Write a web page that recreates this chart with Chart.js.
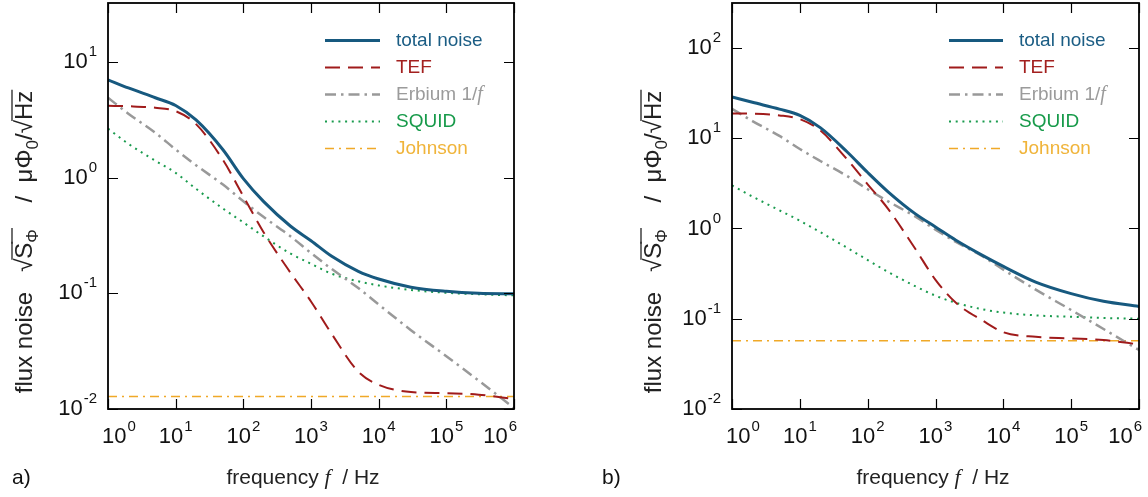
<!DOCTYPE html>
<html>
<head>
<meta charset="utf-8">
<script src="https://cdn.jsdelivr.net/npm/chart.js"></script>
<style>
  html, body { margin: 0; padding: 0; background: #fff; }
  #wrap { position: relative; width: 1148px; height: 497px; overflow: hidden; }
  .panel { position: absolute; top: 0; width: 574px; height: 497px; }
</style>
</head>
<body>
<div id="wrap">
  <div class="panel" style="left:0"><canvas id="chartA" width="574" height="497"></canvas></div>
  <div class="panel" style="left:574px"><canvas id="chartB" width="574" height="497"></canvas></div>
</div>
<script>
// frequency grid (Hz) shared by all curves
const freq = [1, 2, 5, 10, 20, 50, 100, 200, 500, 1e3, 2e3, 5e3, 1e4, 3e4, 1e5, 3e5, 1e6];
const seriesNames = ['total noise', 'TEF', 'Erbium 1/', 'SQUID', 'Johnson'];

// panel a)  flux noise in uPhi0/sqrt(Hz)
const totalA   = [7.0, 5.96, 4.9, 4.2, 3.15, 1.74, 0.98, 0.62, 0.38, 0.285, 0.21, 0.155, 0.133, 0.113, 0.104, 0.1, 0.099];
const tefA     = [4.17, 4.14, 4.02, 3.75, 2.9, 1.42, 0.69, 0.336, 0.15, 0.085, 0.045, 0.021, 0.0162, 0.014, 0.0137, 0.0133, 0.0122];
const erbiumA  = [4.9, 3.57, 2.44, 1.75, 1.28, 0.87, 0.625, 0.456, 0.31, 0.223, 0.163, 0.111, 0.080, 0.048, 0.0286, 0.0176, 0.0102];
const squidA   = [2.65, 1.96, 1.4, 1.1, 0.8, 0.54, 0.41, 0.31, 0.22, 0.18, 0.148, 0.127, 0.117, 0.107, 0.101, 0.098, 0.096];
const johnsonA = [0.0128, 0.0128, 0.0128, 0.0128, 0.0128, 0.0128, 0.0128, 0.0128, 0.0128, 0.0128, 0.0128, 0.0128, 0.0128, 0.0128, 0.0128, 0.0128, 0.0128];

// panel b)
const totalB   = [28.7, 25.0, 21.0, 17.9, 13.1, 7.04, 4.17, 2.55, 1.46, 1.04, 0.74, 0.5, 0.38, 0.255, 0.19, 0.156, 0.137];
const tefB     = [18.8, 18.7, 17.9, 16.3, 12.2, 5.8, 3.09, 1.65, 0.6, 0.27, 0.15, 0.095, 0.071, 0.063, 0.0605, 0.058, 0.052];
const erbiumB  = [21.2, 15.5, 10.6, 7.6, 5.6, 3.8, 2.72, 2.0, 1.36, 0.97, 0.71, 0.49, 0.35, 0.21, 0.125, 0.077, 0.045];
const squidB   = [3.0, 2.26, 1.59, 1.22, 0.91, 0.61, 0.447, 0.33, 0.23, 0.18, 0.15, 0.127, 0.117, 0.109, 0.105, 0.102, 0.1];
const johnsonB = [0.057, 0.057, 0.057, 0.057, 0.057, 0.057, 0.057, 0.057, 0.057, 0.057, 0.057, 0.057, 0.057, 0.057, 0.057, 0.057, 0.057];

// axis decades and their exponent labels
const xDecades = [1, 10, 100, 1e3, 1e4, 1e5, 1e6];
const xExpLabels = ['0', '1', '2', '3', '4', '5', '6'];
const yDecadesA = [0.01, 0.1, 1, 10];
const yExpLabelsA = ['-2', '-1', '0', '1'];
const yDecadesB = [0.01, 0.1, 1, 10, 100];
const yExpLabelsB = ['-2', '-1', '0', '1', '2'];

const SANS = '"Liberation Sans", Arial, Helvetica, sans-serif';
const SERIF = '"Liberation Serif", "Times New Roman", serif';

const lineStyles = [
  { color: '#17597f', width: 3,   dash: [] },
  { color: '#a01b1b', width: 2,   dash: [15, 8] },
  { color: '#999999', width: 2.5, dash: [11, 5, 2.5, 5] },
  { color: '#1a9b4e', width: 2,   dash: [2, 4.7] },
  { color: '#f0a928', width: 1.5, dash: [9, 5, 2, 5] }
];
const legendColors = ['#1b5d84', '#a3201f', '#9b9b9b', '#179a4a', '#f0b43a'];

function buildDatasets(lists) {
  return lists.map((vals, i) => ({
    label: seriesNames[i],
    data: freq.map((f, k) => ({ x: f, y: vals[k] })),
    borderColor: lineStyles[i].color,
    borderWidth: lineStyles[i].width,
    borderDash: lineStyles[i].dash,
    pointRadius: 0,
    fill: false,
    cubicInterpolationMode: 'monotone'
  }));
}

function drawPow(ctx, x, y, exp, mode) {
  ctx.font = '22px ' + SANS;
  const w10 = ctx.measureText('10').width;
  ctx.font = '15px ' + SANS;
  const we = ctx.measureText(exp).width;
  const w = w10 + we + 1;
  let start;
  if (mode === 'right') start = x - w;
  else if (mode === 'first') start = x - 6;
  else if (mode === 'last') start = x + 3 - w;
  else start = x - w / 2;
  ctx.textAlign = 'left';
  ctx.textBaseline = 'middle';
  ctx.fillStyle = '#111';
  ctx.font = '22px ' + SANS;
  ctx.fillText('10', start, y);
  ctx.font = '15px ' + SANS;
  ctx.fillText(exp, start + w10 + 1, y - 10);
}

function drawYTitle(ctx, cx, cy) {
  const big = '24px ' + SANS, small = '17px ' + SANS;
  const runs = [
    { t: 'flux noise   ', f: big },
    { t: '\u221A', f: big },
    { t: 'S', f: big, over: true },
    { t: '\u03A6', f: small, dy: 6, over: true },
    { t: '    /  \u03BC\u03A6', f: big },
    { t: '0', f: small, dy: 6 },
    { t: '/', f: big },
    { t: '\u221A', f: big },
    { t: 'Hz', f: big, over: true }
  ];
  ctx.save();
  ctx.translate(cx, cy);
  ctx.rotate(-Math.PI / 2);
  let total = 0;
  runs.forEach(r => { ctx.font = r.f; r.w = ctx.measureText(r.t).width; total += r.w; });
  let x = -total / 2;
  const base = 9;
  ctx.fillStyle = '#222';
  ctx.strokeStyle = '#222';
  ctx.lineWidth = 1.3;
  ctx.textAlign = 'left';
  ctx.textBaseline = 'alphabetic';
  runs.forEach(r => {
    ctx.font = r.f;
    ctx.fillText(r.t, x, base + (r.dy || 0));
    if (r.over) {
      ctx.beginPath();
      ctx.moveTo(x - 1, base - 20);
      ctx.lineTo(x + r.w + 1, base - 20);
      ctx.stroke();
    }
    x += r.w;
  });
  ctx.restore();
}

function drawXTitle(ctx, cx, cy) {
  const parts = [
    { t: 'frequency ', f: '21px ' + SANS },
    { t: 'f', f: 'italic 22px ' + SERIF },
    { t: '  / Hz', f: '21px ' + SANS }
  ];
  let total = 0;
  parts.forEach(p => { ctx.font = p.f; p.w = ctx.measureText(p.t).width; total += p.w; });
  let x = cx - total / 2;
  ctx.fillStyle = '#222';
  ctx.textAlign = 'left';
  ctx.textBaseline = 'middle';
  parts.forEach(p => { ctx.font = p.f; ctx.fillText(p.t, x, cy); x += p.w; });
}

function framePlugin(cfg) {
  return {
    id: 'frame' + cfg.tag,
    afterDraw(chart) {
      const ctx = chart.ctx;
      const a = chart.chartArea;
      const xs = chart.scales.x, ys = chart.scales.y;
      ctx.save();
      ctx.strokeStyle = '#000';
      ctx.lineWidth = 1.8;
      ctx.setLineDash([]);
      ctx.strokeRect(a.left, a.top, a.right - a.left, a.bottom - a.top);
      // ticks, inward on all four sides
      ctx.lineWidth = 1.2;
      ctx.beginPath();
      xDecades.forEach(v => {
        const px = Math.round(xs.getPixelForValue(v)) + 0.5;
        ctx.moveTo(px, a.bottom); ctx.lineTo(px, a.bottom - 10);
        ctx.moveTo(px, a.top); ctx.lineTo(px, a.top + 10);
      });
      cfg.yDecades.forEach(v => {
        const py = Math.round(ys.getPixelForValue(v)) + 0.5;
        ctx.moveTo(a.left, py); ctx.lineTo(a.left + 10, py);
        ctx.moveTo(a.right, py); ctx.lineTo(a.right - 10, py);
      });
      ctx.stroke();
      // tick labels
      xDecades.forEach((v, i) => {
        const mode = i === 0 ? 'first' : (i === xDecades.length - 1 ? 'last' : 'center');
        drawPow(ctx, xs.getPixelForValue(v), 437, xExpLabels[i], mode);
      });
      cfg.yDecades.forEach((v, i) => {
        drawPow(ctx, a.left - 11, ys.getPixelForValue(v), cfg.yExp[i], 'right');
      });
      // titles
      drawXTitle(ctx, cfg.xTitleX, 478);
      drawYTitle(ctx, cfg.yTitleX, 242);
      ctx.font = '21px ' + SANS;
      ctx.fillStyle = '#111';
      ctx.textAlign = 'left';
      ctx.textBaseline = 'middle';
      ctx.fillText(cfg.tag, cfg.tagX, 478);
      // legend
      const rows = [40, 67, 94, 121, 148];
      chart.data.datasets.forEach((ds, i) => {
        const y = rows[i] + 0.5;
        ctx.strokeStyle = ds.borderColor;
        ctx.lineWidth = ds.borderWidth;
        ctx.setLineDash(ds.borderDash);
        ctx.beginPath();
        ctx.moveTo(cfg.legX1, y); ctx.lineTo(cfg.legX2, y);
        ctx.stroke();
        ctx.setLineDash([]);
        ctx.fillStyle = legendColors[i];
        ctx.font = '19px ' + SANS;
        ctx.textBaseline = 'middle';
        ctx.fillText(ds.label, cfg.legTextX, y);
        if (i === 2) {
          const w = ctx.measureText(ds.label).width;
          ctx.font = 'italic 20px ' + SERIF;
          ctx.fillText('f', cfg.legTextX + w, y);
        }
      });
      ctx.restore();
    }
  };
}

function makePanel(id, lists, cfg) {
  return new Chart(document.getElementById(id), {
    type: 'line',
    data: { datasets: buildDatasets(lists) },
    options: {
      responsive: false,
      animation: false,
      layout: { padding: { left: 0, top: 3, right: cfg.padRight, bottom: 0 } },
      scales: {
        x: {
          type: 'logarithmic', min: 1, max: 1e6,
          ticks: { display: false }, grid: { display: false }, border: { display: false },
          afterFit: s => { s.height = 88; }
        },
        y: {
          type: 'logarithmic', min: 0.01, max: cfg.yMax,
          ticks: { display: false }, grid: { display: false }, border: { display: false },
          afterFit: s => { s.width = cfg.axisLeft; }
        }
      },
      plugins: { legend: { display: false }, tooltip: { enabled: false } }
    },
    plugins: [framePlugin(cfg)]
  });
}

makePanel('chartA', [totalA, tefA, erbiumA, squidA, johnsonA], {
  tag: 'a)', tagX: 12, axisLeft: 108, padRight: 60, yMax: 32.3,
  yDecades: yDecadesA, yExp: yExpLabelsA,
  xTitleX: 303, yTitleX: 23,
  legX1: 325, legX2: 380, legTextX: 396
});
makePanel('chartB', [totalB, tefB, erbiumB, squidB, johnsonB], {
  tag: 'b)', tagX: 28, axisLeft: 158, padRight: 9, yMax: 315,
  yDecades: yDecadesB, yExp: yExpLabelsB,
  xTitleX: 359, yTitleX: 78,
  legX1: 375, legX2: 429, legTextX: 445
});
</script>
</body>
</html>
